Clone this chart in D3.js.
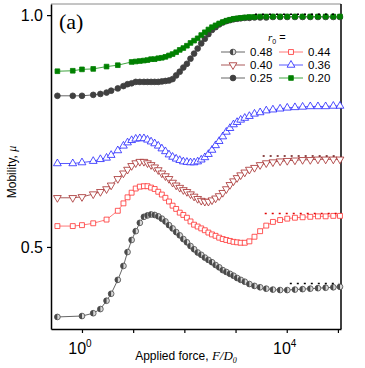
<!DOCTYPE html>
<html>
<head>
<meta charset="utf-8">
<script src="https://cdn.jsdelivr.net/npm/d3@7"></script>
<style>
  body { margin: 0; background: #fff; }
  text { font-family: "Liberation Sans", Arial, sans-serif; }
</style>
</head>
<body>
<div id="chart"></div>
<script>
// log10 of applied force F/D0 (shared grid of the simulation points)
const logForce = [-0.48, -0.18, 0, 0.22, 0.36, 0.48, 0.57, 0.70, 0.81, 0.89,
  0.97, 1.05, 1.13, 1.21, 1.28, 1.35, 1.42, 1.49, 1.56, 1.63,
  1.70, 1.77, 1.84, 1.91, 1.98, 2.05, 2.12, 2.19, 2.26, 2.33,
  2.40, 2.47, 2.54, 2.61, 2.68, 2.75, 2.82, 2.89, 2.96, 3.03,
  3.10, 3.18, 3.27, 3.37, 3.48, 3.60, 3.73, 3.87, 4.01, 4.16,
  4.31, 4.46, 4.61, 4.76, 4.91, 5.04];

// mobility for each r0
const mu048 = [0.349, null, 0.351, 0.357, 0.366, 0.384, 0.399, 0.429, 0.459, 0.489,
  0.515, 0.534, 0.552, 0.565, 0.568, 0.570, 0.569, 0.566, 0.561, 0.555,
  0.547, 0.540, 0.532, 0.525, 0.517, 0.510, 0.502, 0.495, 0.488, 0.483,
  0.477, 0.472, 0.467, 0.461, 0.456, 0.450, 0.446, 0.442, 0.438, 0.433,
  0.429, 0.425, 0.420, 0.416, 0.413, 0.410, 0.408, 0.407, 0.407, 0.408,
  0.409, 0.410, 0.411, 0.412, 0.413, 0.414];
const mu044 = [0.545, 0.545, 0.547, 0.551, null, 0.559, null, 0.578, 0.594, 0.607,
  0.617, 0.626, 0.630, 0.631, 0.631, 0.628, 0.625, 0.619, 0.613, 0.606,
  0.598, 0.589, 0.582, 0.574, 0.569, 0.563, 0.555, 0.548, 0.544, 0.540,
  0.536, 0.531, 0.527, 0.524, 0.520, 0.517, 0.515, 0.513, 0.511, 0.510,
  0.509, 0.509, 0.512, 0.522, 0.534, 0.546, 0.554, 0.558, 0.561, 0.563,
  0.564, 0.565, 0.566, 0.566, 0.567, 0.567];
const mu040 = [0.606, 0.606, 0.608, 0.614, 0.619, 0.625, 0.633, 0.647, 0.659, 0.667,
  0.675, 0.681, 0.684, 0.684, 0.681, 0.677, 0.672, 0.666, 0.659, 0.653,
  0.647, 0.639, 0.633, 0.628, 0.623, 0.619, 0.614, 0.609, 0.604, 0.600,
  0.598, 0.598, 0.601, 0.605, 0.610, 0.617, 0.625, 0.634, 0.642, 0.649,
  0.655, 0.661, 0.667, 0.671, 0.677, 0.681, 0.683, 0.685, 0.686, 0.687,
  0.688, 0.688, 0.689, 0.689, 0.689, 0.689];
const mu036 = [0.680, 0.680, 0.682, 0.685, 0.689, 0.692, 0.698, 0.708, 0.718, 0.725,
  0.730, 0.733, 0.734, 0.734, 0.731, 0.727, 0.723, 0.718, 0.712, 0.706,
  0.699, 0.694, 0.690, 0.687, 0.684, 0.683, 0.682, 0.682, 0.684, 0.688,
  0.693, 0.700, 0.709, 0.719, 0.728, 0.738, 0.748, 0.756, 0.764, 0.769,
  0.774, 0.778, 0.782, 0.787, 0.790, 0.794, 0.796, 0.798, 0.800, 0.801,
  0.802, 0.803, 0.803, 0.803, 0.804, 0.804];
const mu025 = [0.826, 0.826, 0.826, 0.828, 0.830, 0.833, 0.837, 0.842, 0.847, 0.851,
  0.853, 0.856, 0.856, 0.856, 0.856, 0.856, 0.856, 0.856, 0.857, 0.858,
  0.859, 0.862, 0.870, 0.878, 0.887, 0.895, 0.906, 0.917, 0.928, 0.939,
  0.949, 0.959, 0.968, 0.974, 0.980, 0.984, 0.987, 0.989, 0.991, 0.992,
  0.993, 0.994, 0.994, 0.995, 0.995, 0.995, 0.996, 0.996, 0.996, 0.996,
  0.996, 0.996, 0.996, 0.996, 0.996, 0.996];
const mu020 = [0.879, 0.880, 0.883, 0.884, null, 0.889, null, 0.892, null, null,
  0.899, 0.900, 0.901, 0.902, 0.903, 0.905, 0.905, 0.907, 0.908, 0.910,
  0.913, 0.916, 0.920, 0.925, 0.929, 0.934, 0.940, 0.945, 0.950, 0.957,
  0.963, 0.969, 0.974, 0.978, 0.982, 0.985, 0.988, 0.990, 0.992, 0.993,
  0.994, 0.995, 0.996, 0.996, 0.997, 0.997, 0.997, 0.997, 0.997, 0.997,
  0.997, 0.997, 0.997, 0.997, 0.997, 0.997];

// dotted limiting values (r0, mobility, log10 start force)
const limitR = ["0.20", "0.40", "0.44", "0.48"];
const limitMu = [1.002, 0.696, 0.572, 0.421];
const limitStart = [3.38, 3.53, 3.57, 4.06];

const xTicks = [1, 10, 100, 1000, 1e4, 1e5];
const yTicks = [0.5, 1.0];

var style = {
  "0.48": { line: "#555", stroke: "#4a4a4a", fill: "half", shape: "circle", size: 26 },
  "0.44": { line: "#ff6a6a", stroke: "#ff3030", fill: "#fff", shape: "square", size: 24 },
  "0.40": { line: "#a04848", stroke: "#a52a2a", fill: "#fff", shape: "down", size: 26 },
  "0.36": { line: "#4646ff", stroke: "#2222ff", fill: "#fff", shape: "up", size: 26 },
  "0.25": { line: "#555", stroke: "#404040", fill: "#404040", shape: "circle", size: 26 },
  "0.20": { line: "#2a9a2a", stroke: "#008000", fill: "#008000", shape: "square", size: 22 }
};
var limitColor = { "0.20": "#000", "0.40": "#6a1010", "0.44": "#e00000", "0.48": "#000" };

var series = [
  { r: "0.48", mu: mu048 }, { r: "0.44", mu: mu044 }, { r: "0.40", mu: mu040 },
  { r: "0.36", mu: mu036 }, { r: "0.25", mu: mu025 }, { r: "0.20", mu: mu020 }
].map(function(s) {
  return {
    r: s.r,
    values: logForce.map(function(e, i) { return { f: Math.pow(10, e), mu: s.mu[i] }; })
      .filter(function(d) { return d.mu !== null; })
  };
});

var margin = { top: 4, left: 51, right: 24, bottom: 39 };
var width = 365 - margin.left - margin.right;
var height = 368 - margin.top - margin.bottom;

var svg = d3.select("#chart").append("svg").attr("width", 365).attr("height", 368);
var g = svg.append("g").attr("transform", "translate(" + margin.left + "," + margin.top + ")");

var x = d3.scaleLog().domain([Math.pow(10, -0.605), Math.pow(10, 5.06)]).range([0, width]);
var y = d3.scaleLinear().domain([0.323, 1.024]).range([height, 0]);

// frame
g.append("line").attr("x1", 0).attr("x2", width).attr("y1", 0).attr("y2", 0)
  .attr("stroke", "#8a8a8a").attr("stroke-width", 1);
g.append("line").attr("x1", width).attr("x2", width).attr("y1", 0).attr("y2", height)
  .attr("stroke", "#000").attr("stroke-width", 1.5);

// axes
var xAxis = d3.axisBottom(x).tickValues(xTicks).tickSize(4).tickSizeOuter(0).tickFormat("");
var gx = g.append("g").attr("transform", "translate(0," + height + ")").call(xAxis);
gx.select(".domain").attr("stroke-width", 1.5);
gx.selectAll(".tick line").attr("stroke-width", 1.2);
[1, 1e4].forEach(function(v) {
  var t = gx.append("text").attr("x", x(v) - 2).attr("y", 25)
    .attr("text-anchor", "middle").attr("fill", "#000").style("font-size", "16px");
  t.append("tspan").text("10");
  t.append("tspan").attr("dy", -7).style("font-size", "10px").text(Math.round(Math.log10(v)));
});

var yAxis = d3.axisLeft(y).tickValues(yTicks).tickSize(4).tickSizeOuter(0).tickPadding(4)
  .tickFormat(d3.format(".1f"));
var gy = g.append("g").call(yAxis);
gy.select(".domain").attr("stroke-width", 1.5);
gy.selectAll(".tick line").attr("stroke-width", 1.2);
gy.selectAll(".tick text").style("font-size", "16px").attr("fill", "#000");

// axis titles
var xt = svg.append("text").attr("x", 186).attr("y", 360).attr("text-anchor", "middle")
  .style("font-size", "12px");
xt.append("tspan").text("Applied force, ");
xt.append("tspan").style("font-family", "Liberation Serif, serif").style("font-style", "italic")
  .style("font-size", "13px").text("F/D");
xt.append("tspan").attr("dy", 3).style("font-family", "Liberation Serif, serif")
  .style("font-style", "italic").style("font-size", "8px").text("0");

var yt = svg.append("text").attr("transform", "translate(16,172) rotate(-90)")
  .attr("text-anchor", "middle").style("font-size", "12px");
yt.append("tspan").text("Mobility, ");
yt.append("tspan").style("font-family", "Liberation Serif, serif").style("font-style", "italic").text("\u03bc");

svg.append("text").attr("x", 59).attr("y", 29).style("font-family", "Liberation Serif, serif")
  .style("font-size", "22px").text("(a)");

// symbols
function symbolPath(shape, size) {
  if (shape === "circle") return d3.symbol().type(d3.symbolCircle).size(size)();
  if (shape === "square") return d3.symbol().type(d3.symbolSquare).size(size)();
  return d3.symbol().type(d3.symbolTriangle).size(size)();
}
function drawMarker(sel, st) {
  sel.append("path").attr("d", symbolPath(st.shape, st.size))
    .attr("transform", st.shape === "down" ? "rotate(180)" : null)
    .attr("fill", st.fill === "half" ? "#d8d8d8" : st.fill)
    .attr("stroke", st.stroke).attr("stroke-width", 0.8);
  if (st.fill === "half") {
    var rr = Math.sqrt(st.size / Math.PI);
    sel.append("path").attr("d", d3.arc()({ innerRadius: 0, outerRadius: rr, startAngle: Math.PI, endAngle: 2 * Math.PI }))
      .attr("fill", st.stroke);
  }
}

var line = d3.line().x(function(d) { return x(d.f); }).y(function(d) { return y(d.mu); });

var sg = g.selectAll(".series").data(series).enter().append("g").attr("class", "series");
sg.append("path").attr("d", function(d) { return line(d.values); })
  .attr("fill", "none").attr("stroke", function(d) { return style[d.r].line; }).attr("stroke-width", 0.9);
sg.each(function(s) {
  var st = style[s.r];
  d3.select(this).selectAll(".pt").data(s.values).enter().append("g")
    .attr("transform", function(d) { return "translate(" + x(d.f) + "," + y(d.mu) + ")"; })
    .each(function() { drawMarker(d3.select(this), st); });
});

// dotted limiting lines
limitR.forEach(function(r, i) {
  g.append("line")
    .attr("x1", x(Math.pow(10, limitStart[i]))).attr("x2", width - 2)
    .attr("y1", y(limitMu[i])).attr("y2", y(limitMu[i]))
    .attr("stroke", limitColor[r]).attr("stroke-width", 1.6).attr("stroke-dasharray", "2,5");
});

// legend
var legend = svg.append("g");
var lt = legend.append("text").attr("x", 268).attr("y", 41).style("font-size", "11px");
lt.append("tspan").style("font-family", "Liberation Serif, serif").style("font-style", "italic").text("r");
lt.append("tspan").attr("dy", 3).style("font-size", "7px").text("0");
lt.append("tspan").attr("dy", -3).text(" =");
var legendOrder = ["0.48", "0.44", "0.40", "0.36", "0.25", "0.20"];
legendOrder.forEach(function(r, i) {
  var cx = i % 2 === 0 ? 221 : 279;
  var cy = 52 + Math.floor(i / 2) * 13;
  var st = style[r];
  legend.append("line").attr("x1", cx).attr("x2", cx + 24).attr("y1", cy).attr("y2", cy)
    .attr("stroke", st.line).attr("stroke-width", 0.9);
  drawMarker(legend.append("g").attr("transform", "translate(" + (cx + 12) + "," + cy + ")"), st);
  legend.append("text").attr("x", cx + 29).attr("y", cy + 4).style("font-size", "11.5px").text(r);
});
</script>
</body>
</html>
